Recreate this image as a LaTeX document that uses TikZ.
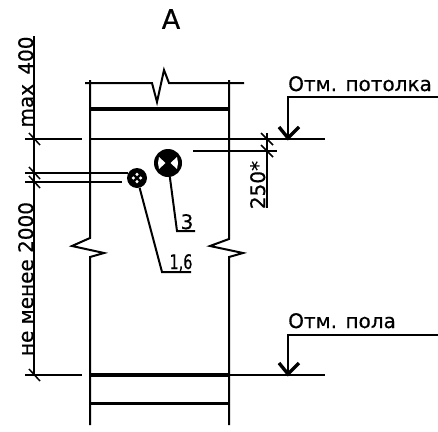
\documentclass[tikz,border=0pt]{standalone}
\usepackage{fontspec}
\setmainfont[FakeBold=0.5]{DejaVu Sans}
\tikzset{
  x=1pt,y=-1pt,
  thinl/.style={line width=1.5pt},
  midl/.style={line width=2pt},
  thickl/.style={line width=3.2pt},
  label/.style={inner sep=0pt,font=\fontsize{20}{20}\selectfont\addfontfeature{FakeBold=0.5}},
  vlabel/.style={label,rotate=90},
  tickm/.style={line width=1.5pt},
  fixture/.style={circle,fill=black,inner sep=0pt,minimum size=#1},
}
\begin{document}
\begin{tikzpicture}
\useasboundingbox (0,0) rectangle (438,431);
\coordinate (dt) at (34,36);
\coordinate (d1) at (34,139);
\coordinate (d2) at (34,173);
\coordinate (d3) at (34,182);
\coordinate (d4) at (34,375);
\draw[thinl] (dt) -- (d4);
\foreach \p in {d1,d2,d3,d4}{\draw[tickm] ([shift={(-5,-6)}]\p) -- ([shift={(6,6)}]\p);}
\draw[thinl] (25,139) -- (82,139);
\draw[thinl] (25,173) -- (128,173);
\draw[thinl] (25,182) -- (122,182);
\draw[thinl] (25,375) -- (82,375);
% walls
\draw[midl] (90,80) -- (90,238) -- (72,246) -- (104,253) -- (90,257) -- (90,425);
\draw[midl] (229,80) -- (229,239) -- (210,246) -- (243,253) -- (229,257) -- (229,425);
% slabs
\draw[midl] (85,83) -- (152,83) -- (157,102) -- (164,70) -- (169,83) -- (244,83);
\draw[thickl] (91,109) -- (229,109);
\draw[line width=2.6pt] (91,139) -- (229,139);
\draw[midl] (229,139) -- (325,139);
\draw[midl] (193,151) -- (277,151);
\draw[thickl] (91,375) -- (229,375);
\draw[midl] (229,375) -- (325,375);
\draw[line width=3pt] (91,403) -- (229,403);
% 250 dim
\coordinate (e1) at (267,139);
\coordinate (e2) at (267,151);
\draw[thinl] (267,133) -- (267,208);
\foreach \p in {e1,e2}{\draw[tickm] ([shift={(-6,-6)}]\p) -- ([shift={(6,6)}]\p);}
% elevation marks
\coordinate (p1) at (288,97);
\coordinate (p2) at (288,138);
\draw[midl] (438,97) -- (p1) -- (p2);
\draw[line width=3.4pt] (279,127) -- (p2) -- (299,127);
\coordinate (q1) at (288,335);
\coordinate (q2) at (288,374);
\draw[midl] (438,335) -- (q1) -- (q2);
\draw[line width=3.4pt] (279,363) -- (q2) -- (299,363);
% fixtures
\node[fixture=28pt] (big) at (168,163) {};
\node[fixture=20pt] (small) at (137,178) {};
\fill[white] (159,157) -- (165.5,163) -- (159,169) -- (158,163) -- cycle;
\fill[white] (177,157) -- (170.5,163) -- (177,169) -- (178,163) -- cycle;
\foreach \a in {0,90,180,270}{
  \fill[white] (137,178) ++(\a:3.6) circle (1.7);
}
\coordinate (b1) at (177,231);
\coordinate (b2) at (195,231);
\coordinate (s1) at (162,272);
\coordinate (s2) at (191,272);
\draw[midl] (big) -- (b1) -- (b2);
\draw[midl] (small) -- (s1) -- (s2);
% labels
\node[label,font=\fontsize{27}{27}\selectfont] (ta) at (171,19) {А};
\node[label,anchor=base west] (t1) at (288,91) {Отм. потолка};
\node[label,anchor=base west] (t2) at (288,328) {Отм. пола};
\node[label,anchor=base] (t3) at (187,229) {3};
\node[label,anchor=base,xscale=.72] (t4) at (181,269) {1,6};
\node[vlabel,anchor=base] (t5) at (33,82) {max\hspace{3pt} 400};
\node[vlabel,anchor=base] (t6) at (33,279) {не менее 2000};
\node[vlabel,anchor=base] (t7) at (265,185) {250*};
\end{tikzpicture}
\end{document}
